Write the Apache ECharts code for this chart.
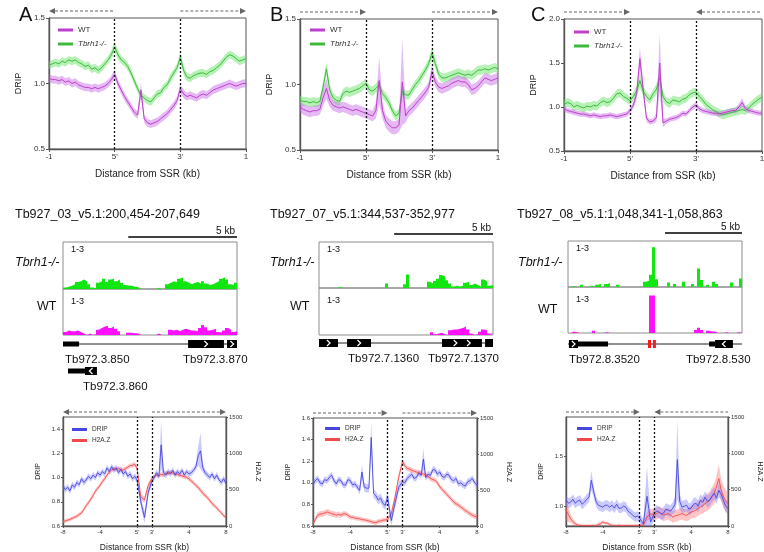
<!DOCTYPE html>
<html><head><meta charset="utf-8">
<script src="https://cdn.jsdelivr.net/npm/echarts@6/dist/echarts.min.js"></script>
<style>html,body{margin:0;padding:0;background:#fff}#c{width:764px;height:552px}</style>
</head><body><div id="c"></div>
<script>
// ================= DATA =================
// Top row: metagene DRIP profiles, 61 samples across -1 .. 5' .. 3' .. 1
const topTickLabels = ['-1', "5'", "3'", '1'];
const topWT_A = [1.04,1.03,1.03,1.02,1.03,1.01,1.02,1.00,1.01,0.99,0.98,0.97,0.97,0.96,0.97,0.96,0.97,0.98,1.00,1.03,1.07,1.00,0.95,0.90,0.86,0.82,0.78,0.76,0.95,0.73,0.70,0.69,0.70,0.71,0.73,0.75,0.77,0.80,0.83,0.87,0.96,0.92,0.90,0.91,0.90,0.89,0.91,0.92,0.91,0.93,0.95,0.96,0.97,0.98,0.99,1.00,0.99,0.98,0.99,1.00,1.00];
const topWTsem_A = [0.03,0.03,0.03,0.03,0.03,0.03,0.03,0.03,0.03,0.03,0.03,0.03,0.03,0.03,0.03,0.03,0.03,0.03,0.03,0.03,0.035,0.03,0.03,0.03,0.03,0.03,0.03,0.03,0.06,0.03,0.03,0.03,0.03,0.03,0.03,0.03,0.03,0.03,0.03,0.03,0.035,0.03,0.03,0.03,0.03,0.03,0.03,0.03,0.03,0.03,0.03,0.03,0.03,0.03,0.03,0.03,0.03,0.03,0.03,0.03,0.03];
const topKO_A = [1.14,1.15,1.16,1.15,1.17,1.16,1.18,1.17,1.18,1.16,1.15,1.13,1.14,1.11,1.12,1.10,1.12,1.15,1.18,1.22,1.28,1.22,1.18,1.16,1.13,1.08,1.02,0.96,0.91,0.89,0.87,0.86,0.89,0.92,0.93,0.97,0.99,1.04,1.08,1.12,1.20,1.10,1.05,1.04,1.06,1.07,1.08,1.08,1.07,1.09,1.10,1.12,1.14,1.17,1.20,1.22,1.21,1.19,1.17,1.18,1.19];
const topKOsem_A = [0.03,0.03,0.03,0.03,0.03,0.03,0.03,0.03,0.03,0.03,0.03,0.03,0.03,0.03,0.03,0.03,0.03,0.03,0.03,0.035,0.04,0.035,0.03,0.03,0.03,0.03,0.03,0.03,0.03,0.03,0.03,0.03,0.03,0.03,0.03,0.03,0.03,0.035,0.03,0.03,0.04,0.035,0.03,0.03,0.03,0.03,0.03,0.03,0.03,0.03,0.03,0.03,0.03,0.03,0.03,0.03,0.03,0.03,0.03,0.03,0.03];

const topWT_B = [0.83,0.81,0.80,0.79,0.80,0.80,0.81,0.90,0.97,0.88,0.84,0.83,0.82,0.83,0.82,0.81,0.80,0.81,0.80,0.79,0.78,0.77,0.76,0.80,1.03,0.80,0.72,0.69,0.67,0.67,0.69,1.02,0.76,0.80,0.82,0.85,0.88,0.91,0.94,0.98,1.10,1.02,0.98,0.97,0.98,0.99,1.01,1.02,1.03,1.02,1.02,1.00,0.96,0.97,0.99,1.02,1.05,1.04,1.03,1.04,1.05];
const topWTsem_B = [0.04,0.04,0.04,0.04,0.04,0.04,0.04,0.06,0.08,0.05,0.04,0.04,0.04,0.04,0.04,0.04,0.04,0.04,0.04,0.04,0.04,0.04,0.04,0.06,0.18,0.06,0.05,0.05,0.05,0.05,0.05,0.33,0.05,0.04,0.04,0.04,0.04,0.04,0.04,0.04,0.05,0.04,0.04,0.04,0.04,0.04,0.04,0.04,0.04,0.04,0.04,0.04,0.04,0.04,0.04,0.04,0.04,0.04,0.04,0.04,0.04];
const topKO_B = [0.88,0.87,0.87,0.86,0.87,0.86,0.87,0.98,1.12,0.96,0.90,0.88,0.87,0.93,0.95,0.94,0.95,0.96,0.97,0.99,1.01,0.96,0.95,0.97,1.00,0.93,0.90,0.86,0.80,0.76,0.78,0.95,0.92,0.92,0.96,1.00,1.03,1.07,1.11,1.16,1.24,1.16,1.08,1.05,1.05,1.06,1.07,1.08,1.09,1.08,1.07,1.08,1.07,1.09,1.11,1.11,1.12,1.11,1.12,1.13,1.12];
const topKOsem_B = [0.035,0.035,0.035,0.035,0.035,0.035,0.035,0.04,0.05,0.04,0.035,0.035,0.035,0.035,0.035,0.035,0.035,0.035,0.035,0.035,0.035,0.035,0.035,0.035,0.04,0.035,0.035,0.035,0.035,0.035,0.035,0.04,0.035,0.035,0.035,0.035,0.035,0.035,0.035,0.035,0.05,0.04,0.035,0.035,0.035,0.035,0.035,0.035,0.035,0.035,0.035,0.035,0.035,0.035,0.035,0.035,0.035,0.035,0.035,0.035,0.035];

const topWT_C = [0.98,0.96,0.95,0.94,0.93,0.92,0.92,0.91,0.90,0.91,0.90,0.89,0.90,0.90,0.91,0.90,0.89,0.90,0.91,0.92,0.96,1.02,1.15,1.55,1.20,0.87,0.83,0.84,0.88,1.50,0.82,0.84,0.86,0.87,0.88,0.90,0.93,0.92,0.96,1.00,1.02,0.98,0.96,0.95,0.94,0.93,0.93,0.92,0.93,0.94,0.95,0.96,0.96,1.00,1.05,0.98,0.96,0.95,0.94,0.93,0.93];
const topWTsem_C = [0.03,0.03,0.03,0.03,0.03,0.03,0.03,0.03,0.03,0.03,0.03,0.03,0.03,0.03,0.03,0.03,0.03,0.03,0.03,0.03,0.03,0.04,0.07,0.12,0.08,0.04,0.03,0.03,0.05,0.33,0.05,0.03,0.03,0.03,0.03,0.03,0.03,0.03,0.03,0.03,0.03,0.03,0.03,0.03,0.03,0.03,0.03,0.03,0.03,0.03,0.03,0.03,0.03,0.04,0.05,0.03,0.03,0.03,0.03,0.03,0.03];
const topKO_C = [1.03,1.05,1.04,1.00,1.02,1.00,0.99,1.01,1.00,1.02,1.01,1.05,1.07,1.05,1.06,1.10,1.15,1.16,1.12,1.10,1.07,1.12,1.18,1.30,1.18,1.12,1.08,1.15,1.20,1.34,1.12,1.06,1.04,1.08,1.07,1.06,1.09,1.10,1.14,1.16,1.17,1.12,1.08,1.03,1.00,0.97,0.95,0.93,0.91,0.92,0.93,0.94,0.95,0.96,0.97,0.96,0.99,1.03,1.06,1.09,1.11];
const topKOsem_C = [0.05,0.05,0.05,0.05,0.05,0.05,0.05,0.05,0.05,0.05,0.05,0.05,0.05,0.05,0.05,0.05,0.05,0.05,0.05,0.05,0.05,0.05,0.06,0.08,0.06,0.05,0.05,0.05,0.06,0.08,0.06,0.05,0.05,0.05,0.05,0.05,0.05,0.05,0.05,0.05,0.05,0.05,0.05,0.05,0.05,0.05,0.05,0.05,0.05,0.05,0.05,0.05,0.05,0.05,0.05,0.05,0.05,0.05,0.05,0.05,0.05];

// Middle row: coverage tracks (58 bins each, range 1-3 scale), gene models (kb from region start)
const titleA = 'Tb927_03_v5.1:200,454-207,649';
const titleB = 'Tb927_07_v5.1:344,537-352,977';
const titleC = 'Tb927_08_v5.1:1,048,341-1,058,863';
const regionKbA = 8.0, regionKbB = 8.8, regionKbC = 11.3;
const covKO_A = [0.1,0.15,0.2,0.3,0.45,0.5,0.6,0.5,0.3,0.1,0.05,0.4,0.5,0.65,0.45,0.6,0.65,0.5,0.6,0.4,0.25,0.2,0.2,0.15,0.12,0,0,0,0,0,0,0.08,0,0,0.3,0.4,0.5,0.45,0.65,0.75,0.5,0.4,0.3,0.4,0.45,0.35,0.5,0.35,0.25,0.3,0.4,0.5,0.65,0.75,0.6,0.3,0.25,0.4];
const covWT_A = [0.2,0.3,0.25,0.25,0.3,0.2,0.1,0,0.1,0,0.05,0.35,0.45,0.55,0.6,0.45,0.55,0.4,0.25,0,0,0.15,0.15,0.12,0.12,0,0,0,0,0,0,0.1,0,0,0,0.35,0.3,0.35,0.25,0.35,0.4,0.35,0.3,0.3,0.25,0.45,0.65,0.5,0.3,0.35,0.4,0.2,0.15,0.3,0.45,0.35,0.2,0.25];
const covKO_B = [0,0,0,0,0,0,0.06,0,0,0,0,0,0,0,0,0,0,0,0,0,0,0,0.3,0,0,0,0,0,0.25,0.88,0,0,0,0,0,0,0.4,0.3,0.45,0.6,0.85,0.75,0.5,0.3,0.1,0.15,0.1,0.15,0.35,0.4,0.2,0.3,0.2,0.1,0.55,0.45,0.15,0.2];
const covWT_B = [0,0,0,0,0,0,0,0,0,0,0,0,0,0,0,0,0,0,0,0,0,0,0,0,0,0,0,0,0,0,0,0,0,0,0,0,0,0.18,0.05,0.1,0.15,0.05,0,0.3,0.35,0.35,0.4,0.45,0.55,0.35,0.1,0,0.05,0.2,0.35,0.3,0.1,0.1];
const covKO_C = [0,0.06,0,0,0.15,0,0,0.1,0,0.15,0.2,0,0.2,0.25,0,0,0.15,0,0,0,0,0,0,0,0,0.35,0.4,0.8,2.6,0.5,0,0,0,0.3,0,0.2,0,0,0.35,0,0,0.2,0,1.2,0.45,0,0.15,0,0.35,0.2,0,0,0,0,0.3,0,0,0.55];
const covWT_C = [0,0.1,0.05,0,0,0,0,0,0.15,0,0,0,0.05,0,0,0,0,0,0,0,0,0,0,0,0,0,0,2.45,2.45,0,0,0,0,0,0,0,0,0,0,0,0,0,0.2,0.35,0.2,0,0.15,0.1,0.1,0,0,0,0.05,0,0,0,0.05,0.05];

const featStartA = [0, 5.75, 7.54, 0.23, 1.01];
const featEndA   = [0.74, 7.40, 8.0, 1.01, 1.56];
const featRowA   = [0, 0, 0, 1, 1];
const featKindA  = ['utr','cds','cds','utr','cds'];
const featDirA   = ['', '>', '>', '', '<'];
const geneNamesA = ['Tb972.3.850','Tb972.3.870','Tb972.3.860'];
const geneNameKbA = [0.09, 5.52, 0.92];
const geneNameRowA = [0, 0, 1];

const featStartB = [0, 1.42, 6.22, 8.40];
const featEndB   = [0.96, 2.63, 8.24, 8.8];
const featRowB   = [0, 0, 0, 0];
const featKindB  = ['cds','cds','cds','cds'];
const featDirB   = ['>', '>', '>>', ''];
const geneNamesB = ['Tb972.7.1360','Tb972.7.1370'];
const geneNameKbB = [1.47, 5.51];
const geneNameRowB = [0, 0];

const featStartC = [0.06, 0.65, 5.19, 5.52, 9.16, 9.55];
const featEndC   = [0.65, 2.6, 5.39, 5.71, 9.55, 10.71];
const featRowC   = [0, 0, 0, 0, 0, 0];
const featKindC  = ['cds','utr','mark','mark','utr','cds'];
const featDirC   = ['>', '', '', '', '', '<'];
const geneNamesC = ['Tb972.8.3520','Tb972.8.530'];
const geneNameKbC = [0.06, 7.66];
const geneNameRowC = [0, 0];

// Bottom row: DRIP and H2A.Z profiles. 33 upstream (-8..0 kb, 0.25 step), 3 inside SSR, 33 downstream (0..8 kb)
const bottomTickLabels = ['-8','-4',"5'","3'",'4','8'];
const botDRIP_A = [.93,.90,.92,.89,.94,.92,.96,.94,.99,.96,.98,1.01,.99,1.02,1.00,1.04,1.02,1.05,1.03,1.08,1.05,1.09,1.06,1.08,1.04,1.07,1.03,1.05,1.01,1.03,.99,1.01,.98,
  .80,.67,.88,
  .97,1.00,1.04,1.01,1.27,1.04,1.02,1.05,1.03,1.06,1.02,1.05,1.03,1.06,1.02,1.05,1.03,1.04,1.06,1.09,1.18,1.22,1.08,1.04,1.02,1.00,1.03,.99,1.02,.98,.96,.99,.95];
const botDRIPsem_A = [.025,.025,.025,.025,.025,.025,.025,.025,.025,.025,.025,.025,.025,.025,.025,.025,.025,.025,.025,.025,.025,.025,.025,.025,.025,.025,.025,.025,.025,.025,.025,.025,.03,
  .04,.05,.04,
  .03,.025,.025,.025,.2,.03,.025,.025,.025,.025,.025,.025,.025,.025,.025,.025,.025,.025,.025,.03,.08,.15,.04,.025,.025,.025,.025,.025,.025,.025,.025,.025,.025];
const botH2AZ_A = [60,70,80,90,105,120,135,160,180,230,280,320,370,420,480,520,560,610,650,700,740,770,790,780,795,770,770,790,810,830,835,850,790,
  400,360,560,
  650,680,700,690,710,700,730,720,740,730,720,710,700,690,680,670,650,620,590,560,530,490,450,420,390,350,310,280,250,210,180,140,120];
const botH2AZsem_A = [25,25,25,25,25,25,25,25,25,30,30,30,30,30,30,30,30,30,30,30,30,30,30,30,30,30,30,30,30,30,30,35,35,
  40,40,40,
  35,30,30,30,30,30,30,30,30,30,30,30,30,30,30,30,30,30,30,30,30,30,30,30,30,30,30,30,25,25,25,25,25];

const botDRIP_B = [.99,1.02,1.04,1.00,.99,1.03,1.02,1.05,1.07,1.02,.99,1.03,1.02,.98,.98,1.03,1.02,.98,.99,.96,.93,1.10,.96,.95,.95,1.42,.90,.88,.84,.86,.81,.79,.87,
  .65,.81,.96,
  1.01,1.00,1.04,1.06,1.08,1.04,1.05,1.09,1.07,1.22,1.05,1.08,1.07,1.12,1.12,1.08,1.10,1.06,1.05,1.08,1.07,1.03,1.02,1.04,.99,1.00,.98,.97,1.01,1.02,1.04,1.00,.98];
const botDRIPsem_B = [.03,.03,.03,.03,.03,.03,.03,.03,.03,.03,.03,.03,.03,.03,.03,.03,.03,.03,.03,.03,.04,.07,.04,.04,.04,.15,.04,.04,.04,.04,.04,.04,.05,
  .05,.05,.05,
  .03,.03,.03,.03,.03,.03,.03,.03,.03,.1,.03,.03,.03,.03,.03,.03,.03,.03,.03,.03,.03,.03,.03,.03,.03,.03,.03,.03,.03,.03,.03,.03,.03];
const botH2AZ_B = [30,90,150,165,170,180,195,185,170,165,150,160,150,170,170,150,125,120,110,105,100,90,85,80,70,60,50,45,65,70,80,85,90,
  170,400,680,
  890,840,800,790,775,760,750,740,730,720,705,690,660,645,635,600,545,510,475,440,405,370,335,310,290,265,240,215,195,170,150,135,125];
const botH2AZsem_B = [30,35,40,40,40,40,40,40,40,40,40,40,35,35,35,35,30,30,30,30,30,30,30,30,30,30,30,30,30,30,30,30,30,
  40,40,40,
  40,40,35,35,35,35,35,35,35,35,35,35,35,35,35,35,35,35,35,35,35,35,35,35,35,35,35,35,35,35,35,35,35];

const botDRIP_C = [1.06,1.03,1.04,1.07,1.03,1.05,1.06,1.02,1.04,1.07,1.09,1.26,1.15,1.05,1.01,1.00,.99,1.01,1.01,.99,1.01,.98,1.02,.98,.98,1.00,.99,.95,.93,.91,.89,.90,.88,
  .82,1.10,.84,
  .93,.95,.94,.92,.93,.97,.96,.95,.98,1.02,1.47,1.05,.99,1.00,1.01,.97,.98,1.02,1.03,1.00,1.06,1.04,1.09,1.05,1.06,1.10,1.13,1.08,1.16,1.12,1.06,1.00,.98];
const botDRIPsem_C = [.05,.05,.05,.05,.05,.05,.05,.05,.05,.05,.05,.1,.06,.05,.05,.05,.05,.05,.05,.05,.05,.05,.05,.05,.05,.05,.05,.05,.05,.05,.05,.05,.05,
  .05,.3,.06,
  .06,.06,.06,.06,.06,.06,.06,.06,.06,.08,.4,.08,.06,.06,.06,.06,.06,.06,.06,.06,.06,.06,.06,.06,.06,.06,.06,.06,.07,.06,.06,.06,.06];
const botH2AZ_C = [216,160,100,60,32,15,8,5,5,5,5,5,5,5,20,30,55,40,40,20,5,5,5,10,5,5,5,5,5,5,5,5,5,
  10,124,170,
  147,170,193,170,147,160,170,150,124,140,147,160,170,155,147,170,193,200,216,240,261,280,307,330,353,400,445,537,651,500,400,350,307];
const botH2AZsem_C = [140,100,60,40,30,20,20,20,20,20,20,20,20,20,20,20,25,20,20,20,20,20,20,20,20,20,20,20,20,20,20,20,20,
  50,60,70,
  80,80,80,80,80,80,80,80,80,80,80,80,80,80,80,90,90,90,100,100,100,110,110,120,120,130,140,150,200,160,150,150,150];

// ================= BUILD =================
const FONT = '"Liberation Sans", Arial, Helvetica, sans-serif';
const topPos = topWT_A.map((_, i) => i / 20);              // profile position 0..3 (-1, 5', 3', 1)
const SSR = 1.6;                                           // drawn width of the SSR between 5' and 3'
const flankSteps = botDRIP_A.slice(0, 33).map((_, i) => i * 0.25);
const bottomPos = [...flankSteps.map(d => d - 8), SSR * 0.25, SSR * 0.5, SSR * 0.75, ...flankSteps.map(d => d + SSR)];
const bottomTickVals = [-8, -4, 0, SSR, SSR + 4, SSR + 8];

const option = {animation: false, backgroundColor: '#fff', textStyle: {fontFamily: FONT},
  grid: [], xAxis: [], yAxis: [], series: [], legend: [], graphic: []};
const push = (arr, o) => { arr.push(o); return arr.length - 1; };

function band(xi, yi, xs, mean, sem, fill) {
  return {type: 'custom', xAxisIndex: xi, yAxisIndex: yi, data: [[xs[0], mean[0]]], clip: true, silent: true, z: 2,
    renderItem: (p, api) => {
      const up = [], lo = [];
      for (let i = 0; i < xs.length; i++) {
        up.push(api.coord([xs[i], mean[i] + sem[i]]));
        lo.push(api.coord([xs[i], mean[i] - sem[i]]));
      }
      return {type: 'polygon', shape: {points: up.concat(lo.reverse())}, style: {fill}};
    }};
}
function line(xi, yi, xs, vals, name, color, w) {
  return {type: 'line', name, xAxisIndex: xi, yAxisIndex: yi, data: xs.map((x, i) => [x, vals[i]]),
    symbol: 'none', clip: true, z: 3, lineStyle: {width: w || 1, color}, itemStyle: {color}, silent: true};
}
function dotted(xs) {
  return {symbol: ['none', 'none'], silent: true, label: {show: false},
    lineStyle: {type: [2, 2], color: '#111', width: 1.3}, data: xs.map(x => ({xAxis: x}))};
}
function arrows(xi, yi, list, yTop, off) {
  return {type: 'custom', xAxisIndex: xi, yAxisIndex: yi, clip: false, silent: true, z: 6,
    data: list.map(a => [a[0], a[1], yTop, a[2]]), encode: {x: [0, 1], y: 2},
    renderItem: (p, api) => {
      const s = api.coord([api.value(0), api.value(2)]);
      const e = api.coord([api.value(1), api.value(2)]);
      const y = s[1] - off, dir = api.value(3);
      const tip = dir > 0 ? e[0] : s[0], back = dir > 0 ? tip - 6 : tip + 6;
      return {type: 'group', children: [
        {type: 'line', shape: {x1: dir > 0 ? s[0] : back, y1: y, x2: dir > 0 ? back : e[0], y2: y},
          style: {stroke: '#666', lineWidth: 1.2, lineDash: [3, 2]}},
        {type: 'polygon', shape: {points: [[tip, y], [back, y - 3], [back, y + 3]]}, style: {fill: '#666'}}]};
    }};
}
function axisBase(extra) {
  return Object.assign({type: 'value', splitLine: {show: false}, nameMoveOverlap: false,
    axisLine: {show: true, onZero: false, lineStyle: {color: '#555', width: 1.4}}}, extra);
}
function text(x, y, str, size, opts) {
  option.graphic.push({type: 'text', x, y, z: 20, silent: true,
    style: Object.assign({text: str, fontSize: size, fontFamily: FONT, fill: '#111', verticalAlign: 'middle', align: 'left'}, opts || {})});
}

// ---- top row ----
function topPanel(c) {
  const gi = push(option.grid, {left: c.left, top: c.top, width: c.width, height: c.height, show: true,
    borderColor: '#555', borderWidth: 1, outerBoundsMode: 'none', containLabel: false});
  const xi = push(option.xAxis, axisBase({gridIndex: gi, min: 0, max: 3, name: 'Distance from SSR (kb)',
    nameLocation: 'middle', nameGap: 20, nameTextStyle: {fontSize: 10, color: '#222'},
    axisTick: {show: true, length: 3, customValues: [0, 1, 2, 3], lineStyle: {color: '#555'}},
    axisLabel: {fontSize: 8, color: '#333', margin: 4, customValues: [0, 1, 2, 3], formatter: v => topTickLabels[Math.round(v)]}}));
  const yi = push(option.yAxis, axisBase({gridIndex: gi, min: c.yMin, max: c.yMax, name: 'DRIP', nameLocation: 'middle',
    nameGap: 26, nameRotate: 90, nameTextStyle: {fontSize: 9, color: '#222'},
    axisTick: {show: true, length: 3, customValues: c.yTicks, lineStyle: {color: '#555'}},
    axisLabel: {fontSize: 8, color: '#333', margin: 4, customValues: c.yTicks, formatter: v => v.toFixed(1)}}));
  option.series.push(band(xi, yi, topPos, c.ko, c.koSem, 'rgba(110,230,110,0.5)'));
  option.series.push(band(xi, yi, topPos, c.wt, c.wtSem, 'rgba(195,100,230,0.45)'));
  option.series.push(line(xi, yi, topPos, c.ko, 'Tbrh1-/-', '#3cba3c'));
  const wl = line(xi, yi, topPos, c.wt, 'WT', '#bf3fcc');
  wl.markLine = dotted([1, 2]);
  option.series.push(wl);
  option.series.push(arrows(xi, yi, c.arrows, c.yMax, 7));
  option.legend.push({left: c.legX, top: c.legY, orient: 'vertical', selectedMode: false, icon: 'rect',
    itemWidth: 15, itemHeight: 3, itemGap: 6, textStyle: {fontSize: 8, color: '#333'},
    data: [{name: 'WT'}, {name: 'Tbrh1-/-', textStyle: {fontStyle: 'italic'}}]});
  text(c.letterX, 15, c.letter, 20);
}
topPanel({left: 49, top: 18, width: 197, height: 131, yMin: 0.5, yMax: 1.5, yTicks: [0.5, 1.0, 1.5],
  wt: topWT_A, wtSem: topWTsem_A, ko: topKO_A, koSem: topKOsem_A, arrows: [[0, 0.98, -1], [2, 3, 1]],
  legX: 53, legY: 21, letter: 'A', letterX: 19});
topPanel({left: 300, top: 19, width: 198, height: 131, yMin: 0.5, yMax: 1.5, yTicks: [0.5, 1.0, 1.5],
  wt: topWT_B, wtSem: topWTsem_B, ko: topKO_B, koSem: topKOsem_B, arrows: [[0, 1, 1], [2, 3, 1]],
  legX: 305, legY: 21, letter: 'B', letterX: 270});
topPanel({left: 564, top: 19, width: 198, height: 132, yMin: 0.5, yMax: 2.0, yTicks: [0.5, 1.0, 1.5, 2.0],
  wt: topWT_C, wtSem: topWTsem_C, ko: topKO_C, koSem: topKOsem_C, arrows: [[0, 1, 1], [2, 3, -1]],
  legX: 569, legY: 23, letter: 'C', letterX: 531});

// ---- middle row ----
function hidden(gi, min, max, inv) { return {gridIndex: gi, type: 'value', show: false, min, max, inverse: !!inv, splitLine: {show: false}}; }
function cov(xi, yi, vals, L, color) {
  const n = vals.length;
  const data = vals.map((v, k) => [k * L / n, v]);
  data.push([L, vals[n - 1]]);
  return {type: 'line', xAxisIndex: xi, yAxisIndex: yi, step: 'end', symbol: 'none', data, silent: true, z: 2,
    lineStyle: {width: 0, color}, itemStyle: {color}, areaStyle: {color, opacity: 1}};
}
function midPanel(c) {
  const gK = push(option.grid, {left: c.left, top: c.top, width: 174, height: c.mid - c.top, show: true, borderColor: '#8c8c8c', borderWidth: 1});
  const xK = push(option.xAxis, hidden(gK, 0, c.L)), yK = push(option.yAxis, hidden(gK, 0, 3));
  option.series.push(cov(xK, yK, c.ko, c.L, '#11e611'));
  option.series.push({type: 'custom', xAxisIndex: xK, yAxisIndex: yK, clip: false, silent: true, z: 5,
    data: [[c.L - 5, c.L, 3]], encode: {x: [0, 1], y: 2},
    renderItem: (p, api) => {
      const a = api.coord([api.value(0), api.value(2)]), b = api.coord([api.value(1), api.value(2)]);
      const y = a[1] - c.barOff;
      return {type: 'group', children: [
        {type: 'line', shape: {x1: a[0], y1: y, x2: b[0], y2: y}, style: {stroke: '#000', lineWidth: 1.5}},
        {type: 'text', style: {text: '5 kb', x: b[0] - 2, y: y - 6, align: 'right', verticalAlign: 'middle', fontSize: 10, fontFamily: FONT, fill: '#111'}}]};
    }});
  const gW = push(option.grid, {left: c.left, top: c.mid, width: 174, height: c.bottom - c.mid, show: true, borderColor: '#8c8c8c', borderWidth: 1});
  const xW = push(option.xAxis, hidden(gW, 0, c.L)), yW = push(option.yAxis, hidden(gW, 0, 3));
  option.series.push(cov(xW, yW, c.wt, c.L, '#ff10ff'));
  const gG = push(option.grid, {left: c.left, top: c.rowY - 9, width: 174, height: 45, show: false});
  const xG = push(option.xAxis, hidden(gG, 0, c.L)), yG = push(option.yAxis, hidden(gG, -1 / 3, 4 / 3, true));
  option.series.push({type: 'line', xAxisIndex: xG, yAxisIndex: yG, data: [[0, 0], [c.L, 0]], symbol: 'none', silent: true, z: 3,
    lineStyle: {color: '#222', width: 1}});
  option.series.push({type: 'custom', xAxisIndex: xG, yAxisIndex: yG, clip: false, silent: true, z: 5,
    data: c.fs.map((s, i) => [s, c.fe[i], c.fr[i]]), encode: {x: [0, 1], y: 2},
    renderItem: (p, api) => {
      const i = p.dataIndex, kind = c.fk[i], d = c.fd[i];
      const a = api.coord([api.value(0), api.value(2)]), b = api.coord([api.value(1), api.value(2)]);
      const h = kind === 'utr' ? 5 : 8;
      const ch = [{type: 'rect', shape: {x: a[0], y: a[1] - h / 2, width: b[0] - a[0], height: h},
        style: {fill: kind === 'mark' ? '#ff1a1a' : '#000'}}];
      for (let k = 0; k < d.length; k++) {
        const cx = a[0] + (b[0] - a[0]) * (k + 1) / (d.length + 1), s = d[k] === '>' ? 1 : -1;
        ch.push({type: 'polyline', shape: {points: [[cx - 1.6 * s, a[1] - 3], [cx + 1.6 * s, a[1]], [cx - 1.6 * s, a[1] + 3]]},
          style: {stroke: '#fff', lineWidth: 1.2, fill: null}});
      }
      return {type: 'group', children: ch};
    }});
  option.series.push({type: 'custom', xAxisIndex: xG, yAxisIndex: yG, clip: false, silent: true, z: 5,
    data: c.gk.map((x, i) => [x, c.gr[i]]), encode: {x: 0, y: 1},
    renderItem: (p, api) => {
      const pt = api.coord([api.value(0), api.value(1)]);
      return {type: 'text', style: {text: c.gn[p.dataIndex], x: pt[0], y: pt[1] + 16, align: 'left', verticalAlign: 'middle',
        fontSize: 11.5, fontFamily: FONT, fill: '#111'}};
    }});
  text(c.titleX, 215, c.title, 12.5);
  text(c.koX, 263, 'Tbrh1-/-', 12.5, {fontStyle: 'italic'});
  text(c.wtX, c.wtY, 'WT', 12.5);
  text(c.left + 8, c.top + 8, '1-3', 9);
  text(c.left + 8, c.mid + 13, '1-3', 9);
}
midPanel({left: 63, top: 242, mid: 289, bottom: 335, rowY: 344, L: regionKbA, barOff: 5, ko: covKO_A, wt: covWT_A,
  fs: featStartA, fe: featEndA, fr: featRowA, fk: featKindA, fd: featDirA, gn: geneNamesA, gk: geneNameKbA, gr: geneNameRowA,
  title: titleA, titleX: 15, koX: 15, wtX: 37, wtY: 307});
midPanel({left: 319, top: 242, mid: 288, bottom: 335, rowY: 343, L: regionKbB, barOff: 8, ko: covKO_B, wt: covWT_B,
  fs: featStartB, fe: featEndB, fr: featRowB, fk: featKindB, fd: featDirB, gn: geneNamesB, gk: geneNameKbB, gr: geneNameRowB,
  title: titleB, titleX: 270, koX: 270, wtX: 290, wtY: 307});
midPanel({left: 568, top: 241, mid: 287, bottom: 333, rowY: 344, L: regionKbC, barOff: 8, ko: covKO_C, wt: covWT_C,
  fs: featStartC, fe: featEndC, fr: featRowC, fk: featKindC, fd: featDirC, gn: geneNamesC, gk: geneNameKbC, gr: geneNameRowC,
  title: titleC, titleX: 517, koX: 518, wtX: 538, wtY: 310});

// ---- bottom row ----
function botPanel(c) {
  const gi = push(option.grid, {left: c.left, top: c.top, width: c.width, height: c.height, show: true,
    borderColor: '#555', borderWidth: 1, outerBoundsMode: 'none', containLabel: false});
  const xi = push(option.xAxis, axisBase({gridIndex: gi, min: -8, max: SSR + 8, name: 'Distance from SSR (kb)',
    nameLocation: 'middle', nameGap: 17, nameTextStyle: {fontSize: 8.5, color: '#222'},
    axisTick: {show: true, length: 2, customValues: bottomTickVals, lineStyle: {color: '#555'}},
    axisLabel: {fontSize: 6, color: '#333', margin: 3, customValues: bottomTickVals,
      formatter: v => bottomTickLabels[bottomTickVals.findIndex(t => Math.abs(t - v) < 1e-6)]}}));
  const yi = push(option.yAxis, axisBase({gridIndex: gi, min: c.yMin, max: c.yMax, name: 'DRIP', nameLocation: 'middle',
    nameGap: 21, nameRotate: 90, nameTextStyle: {fontSize: 7, color: '#222'},
    axisTick: {show: true, length: 2, customValues: c.yTicks, lineStyle: {color: '#555'}},
    axisLabel: {fontSize: 6, color: '#333', margin: 3, customValues: c.yTicks, formatter: v => v.toFixed(1)}}));
  const yr = push(option.yAxis, axisBase({gridIndex: gi, position: 'right', min: 0, max: 1500, name: 'H2A.Z', nameLocation: 'middle',
    nameGap: 28, nameRotate: -90, nameTextStyle: {fontSize: 7, color: '#222'},
    axisTick: {show: true, length: 2, customValues: [0, 500, 1000, 1500], lineStyle: {color: '#555'}},
    axisLabel: {fontSize: 6, color: '#333', margin: 3, customValues: [0, 500, 1000, 1500], formatter: v => String(Math.round(v))}}));
  option.series.push(band(xi, yr, bottomPos, c.h2, c.h2Sem, 'rgba(255,110,110,0.4)'));
  option.series.push(band(xi, yi, bottomPos, c.drip, c.dripSem, 'rgba(115,115,255,0.38)'));
  option.series.push(line(xi, yr, bottomPos, c.h2, 'H2A.Z', '#f24a4a', 0.9));
  const dl = line(xi, yi, bottomPos, c.drip, 'DRIP', '#4646e0', 0.9);
  dl.markLine = dotted([0, SSR]);
  option.series.push(dl);
  option.series.push(arrows(xi, yi, c.arrows, c.yMax, 5));
  option.legend.push({left: c.legX, top: c.legY, orient: 'vertical', selectedMode: false, icon: 'rect',
    itemWidth: 15, itemHeight: 3, itemGap: 4, textStyle: {fontSize: 6.5, color: '#333'}, data: ['DRIP', 'H2A.Z']});
}
botPanel({left: 63, top: 417, width: 163, height: 109, yMin: 0.6, yMax: 1.5, yTicks: [0.6, 0.8, 1.0, 1.2, 1.4],
  drip: botDRIP_A, dripSem: botDRIPsem_A, h2: botH2AZ_A, h2Sem: botH2AZsem_A, arrows: [[-8, 0, -1], [SSR, SSR + 8, 1]], legX: 67, legY: 421});
botPanel({left: 313, top: 418, width: 164, height: 108, yMin: 0.6, yMax: 1.6, yTicks: [0.6, 0.8, 1.0, 1.2, 1.4, 1.6],
  drip: botDRIP_B, dripSem: botDRIPsem_B, h2: botH2AZ_B, h2Sem: botH2AZsem_B, arrows: [[-8, 0, 1], [SSR, SSR + 8, 1]], legX: 320, legY: 420});
botPanel({left: 566, top: 417, width: 162, height: 109, yMin: 0.8, yMax: 1.9, yTicks: [1.0, 1.5],
  drip: botDRIP_C, dripSem: botDRIPsem_C, h2: botH2AZ_C, h2Sem: botH2AZsem_C, arrows: [[-8, 0, 1], [SSR, SSR + 8, -1]], legX: 572, legY: 420});

const chart = echarts.init(document.getElementById('c'));
chart.setOption(option);
</script>
</body></html>
